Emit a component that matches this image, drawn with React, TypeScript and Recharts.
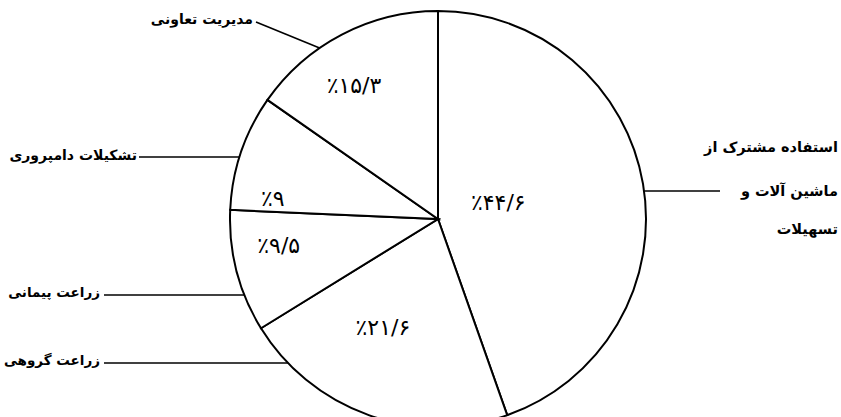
import React from 'react';
import { PieChart, Pie, Cell } from 'recharts';

// ---- data ----
const categories: string[] = [
  'استفاده مشترک از\nماشین آلات و\nتسهیلات',
  'زراعت گروهی',
  'زراعت پیمانی',
  'تشکیلات دامپروری',
  'مدیریت تعاونی',
];
const shares: number[] = [44.6, 21.6, 9.5, 9, 15.3];

const data = categories.map((name, i) => ({ name, value: shares[i] }));

// ---- label layout (styling only) ----
// t: fraction across the slice angle; rf: fraction of the radius
const LABEL_POS = [
  { t: 0.468, rf: 0.3 },
  { t: 0.595, rf: 0.587 },
  { t: 0.654, rf: 0.776 },
  { t: 0.14, rf: 0.8 },
  { t: 0.417, rf: 0.76 },
];

type Leader = {
  side?: 'left' | 'right';
  lineY?: number;
  angle?: number;
  endX: number;
  endY?: number;
  textX: number;
  baselines: number[];
  fontSize: number;
};

const LEADERS: Leader[] = [
  { side: 'right', lineY: 191, endX: 720, textX: 838, baselines: [152, 196, 234], fontSize: 14.5 },
  { side: 'left', lineY: 363, endX: 104, textX: 100, baselines: [365], fontSize: 13.5 },
  { side: 'left', lineY: 295, endX: 104, textX: 100, baselines: [297], fontSize: 13.5 },
  { side: 'left', lineY: 157, endX: 139, textX: 137, baselines: [160], fontSize: 14 },
  { angle: 124.7, endX: 256, endY: 22, textX: 253, baselines: [24], fontSize: 14 },
];

const PERSIAN_DIGITS = ['۰', '۱', '۲', '۳', '۴', '۵', '۶', '۷', '۸', '۹'];
const toPersianPercent = (v: number) =>
  '٪' +
  String(v)
    .replace('.', '/')
    .replace(/[0-9]/g, (d) => PERSIAN_DIGITS[Number(d)]);

const RAD = Math.PI / 180;

const renderLabel = (props: any) => {
  const { cx, cy, outerRadius, startAngle, endAngle, index, value, name } = props;
  const lp = LABEL_POS[index];
  const a = startAngle + lp.t * (endAngle - startAngle);
  const r = outerRadius * lp.rf;
  const px = cx + r * Math.cos(a * RAD);
  const py = cy - r * Math.sin(a * RAD);

  const ld = LEADERS[index];
  let x1: number, y1: number, x2: number, y2: number;
  if (ld.angle !== undefined) {
    x1 = cx + outerRadius * Math.cos(ld.angle * RAD);
    y1 = cy - outerRadius * Math.sin(ld.angle * RAD);
    x2 = ld.endX;
    y2 = ld.endY as number;
  } else {
    const dy = (ld.lineY as number) - cy;
    const dx = Math.sqrt(Math.max(0, outerRadius * outerRadius - dy * dy));
    x1 = ld.side === 'right' ? cx + dx : cx - dx;
    y1 = ld.lineY as number;
    x2 = ld.endX;
    y2 = ld.lineY as number;
  }
  const lines = String(name).split('\n');

  return (
    <g key={`lbl-${index}`}>
      <text
        x={px}
        y={py}
        textAnchor="middle"
        dominantBaseline="central"
        fontFamily="'DejaVu Sans', sans-serif"
        fontSize={22}
        fill="#000"
      >
        {toPersianPercent(value)}
      </text>
      <line x1={x1} y1={y1} x2={x2} y2={y2} stroke="#000" strokeWidth={1.6} />
      {lines.map((ln, i) => (
        <text
          key={i}
          x={ld.textX}
          y={ld.baselines[i]}
          textAnchor="end"
          fontFamily="'DejaVu Sans', sans-serif"
          fontWeight="bold"
          fontSize={ld.fontSize}
          fill="#000"
        >
          {ln}
        </text>
      ))}
    </g>
  );
};

export default function App() {
  return (
    <div style={{ position: 'absolute', left: 0, top: 0, width: 841, height: 417, background: '#fff' }}>
      <PieChart width={841} height={417} margin={{ top: 0, right: 0, bottom: 0, left: 0 }}>
        <Pie
          data={data}
          dataKey="value"
          nameKey="name"
          cx={438}
          cy={219}
          innerRadius={0}
          outerRadius={208}
          startAngle={90}
          endAngle={-270}
          stroke="#000"
          strokeWidth={2}
          isAnimationActive={false}
          label={renderLabel}
          labelLine={false}
        >
          {data.map((d, i) => (
            <Cell key={i} fill="#fff" stroke="#000" strokeWidth={2} />
          ))}
        </Pie>
      </PieChart>
    </div>
  );
}
